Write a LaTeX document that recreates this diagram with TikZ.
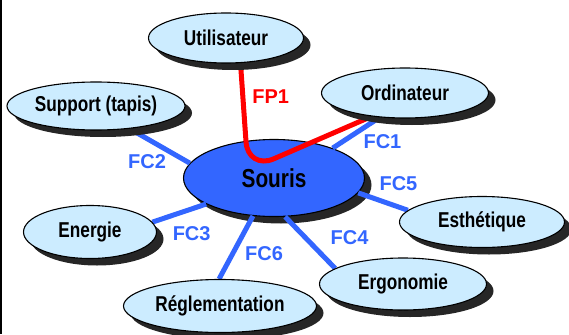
\documentclass[tikz,border=0pt]{standalone}
\usepackage{fontspec}
\setmainfont{Liberation Sans}
\newfontfamily\narrowsans[FakeStretch=0.8]{Liberation Sans}
\usetikzlibrary{
  shapes.geometric,
  shadows
}
\definecolor{linkblue}{RGB}{51,102,255}
\definecolor{hubblue}{RGB}{51,102,255}
\definecolor{paleblue}{RGB}{204,236,255}
\definecolor{fpred}{RGB}{255,0,0}
\pgfdeclarelayer{hub}
\pgfdeclarelayer{links}
\pgfsetlayers{hub,links,main}
\tikzset{
  bubble/.style={
    ellipse,
    draw=black,
    line width=1.1pt,
    fill=paleblue,
    inner sep=0pt,
    drop shadow={shadow xshift=7pt,shadow yshift=-7pt,fill=black!85,opacity=1},
    font=\narrowsans\bfseries\fontsize{21.5}{25}\selectfont
  },
  hubbox/.style={bubble,fill=hubblue,font=\narrowsans\bfseries\fontsize{26}{30}\selectfont},
  fclink/.style={draw=linkblue,line width=5pt},
  fplink/.style={draw=fpred,line width=5pt,rounded corners=28pt},
  fclabel/.style={text=linkblue,font=\bfseries\fontsize{20}{23}\selectfont,inner sep=1pt},
  fplabel/.style={fclabel,text=fpred}
}

\begin{document}
\begin{tikzpicture}[x=1pt,y=-1pt]
  \begin{pgfonlayer}{hub}
    \fill[white] (0,0) rectangle (569,334);
    \fill[black] (0,0) rectangle (2,334);
    \node[hubbox,minimum width=181pt,minimum height=77pt] (souris) at (274,178) {Souris};
  \end{pgfonlayer}
  \useasboundingbox (0,0) rectangle (569,334);

  \node[bubble,minimum width=155pt,minimum height=50pt] (util) at (226,38) {Utilisateur};
  \node[bubble,minimum width=178pt,minimum height=48pt] (support) at (96,106) {Support (tapis)};
  \node[bubble,minimum width=167pt,minimum height=50pt] (ordi) at (405,93) {Ordinateur};
  \node[bubble,minimum width=133pt,minimum height=53pt] (energie) at (90,232) {Energie};
  \node[bubble,minimum width=165pt,minimum height=51pt] (esth) at (482,222) {Esthétique};
  \node[bubble,minimum width=167pt,minimum height=52pt] (ergo) at (403,284) {Ergonomie};
  \node[bubble,minimum width=193pt,minimum height=53pt] (regl) at (220,306) {Réglementation};

  \begin{pgfonlayer}{links}
    \draw[fclink] (souris.27) -- node[fclabel,pos=.2,right=18pt] (fc1) {FC1} (ordi.224);
    \draw[fclink] (souris.170) -- node[fclabel,pos=.71,below=12pt] (fc2) {FC2} (support.-34);
    \draw[fclink] (souris.201) -- node[fclabel,pos=.27,below=14pt] (fc3) {FC3} (energie.9);
    \draw[fclink] (souris.-74) -- node[fclabel,pos=.4,right=22pt] (fc4) {FC4} (ergo.167);
    \draw[fclink] (souris.-10) -- node[fclabel,pos=.81,above=13pt] (fc5) {FC5} (esth.171);
    \draw[fclink] (souris.241) -- node[fclabel,pos=.6,right=9pt] (fc6) {FC6} (regl.92);
    \coordinate (fp1bend) at (248,170);
    \draw[fplink] (util.-60) -- node[fplabel,pos=.31,right=6pt] (fp1) {FP1} (fp1bend) -- (ordi.215);
  \end{pgfonlayer}
\end{tikzpicture}
\end{document}
